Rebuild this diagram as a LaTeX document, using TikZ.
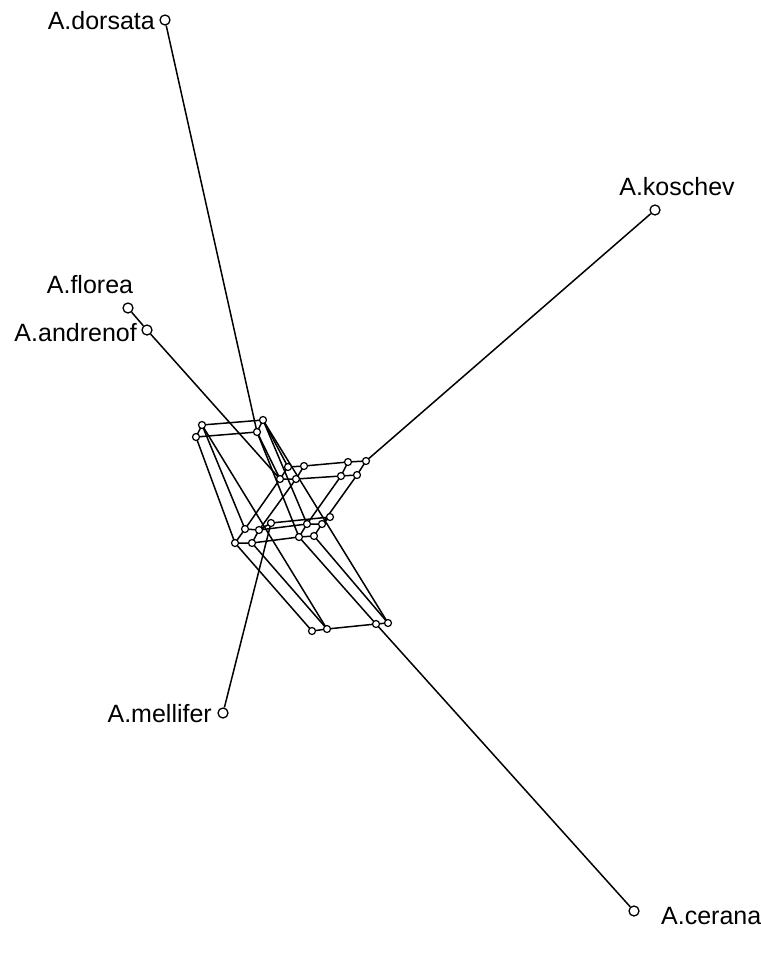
\documentclass[tikz,border=0pt]{standalone}
\usepackage{fontspec}
\setmainfont{Liberation Sans}
\begin{document}
\begin{tikzpicture}[x=1pt,y=-1pt,
  v/.style={circle,draw=black,fill=white,line width=1.2pt,inner sep=0pt,minimum size=7pt},
  lf/.style={circle,draw=black,fill=white,line width=1.3pt,inner sep=0pt,minimum size=10pt},
  lab/.style={font=\fontsize{25}{29}\selectfont,inner sep=0pt},
  ed/.style={line width=1.5pt,black}]
\useasboundingbox (0,0) rectangle (761,954);
% leaves
\node[lf] (dor) at (165,20) {};
\node[lf] (kos) at (655,210) {};
\node[lf] (flo) at (128,308) {};
\node[lf] (and) at (147,330) {};
\node[lf] (mel) at (223,713) {};
\node[lf] (cer) at (634,911) {};
% top cluster
\coordinate (d) at (202,425);
\coordinate (a) at (263,420);
\coordinate (e) at (196,437);
\coordinate (c) at (257,432);
% middle cluster
\coordinate (f) at (288,467);
\coordinate (g) at (304,466);
\coordinate (h) at (280,479);
\coordinate (i) at (296,479);
\coordinate (j) at (348,462);
\coordinate (k) at (366,461);
\coordinate (l) at (341,476);
\coordinate (m) at (357,475);
% lower cluster
\coordinate (n) at (245,529);
\coordinate (o) at (259,530);
\coordinate (p) at (271,523);
\coordinate (q) at (235,543);
\coordinate (r) at (252,543);
\coordinate (s) at (307,524);
\coordinate (t) at (322,524);
\coordinate (u) at (330,517);
\coordinate (vv) at (299,537);
\coordinate (w) at (314,536);
% bottom cluster
\coordinate (x1) at (312,631);
\coordinate (x2) at (327,629);
\coordinate (x3) at (376,624);
\coordinate (x4) at (388,623);
% edges
\draw[ed] (dor)--(c) (kos)--(k) (flo)--(and) (and)--(h) (mel)--(p) (cer)--(x3);
\draw[ed] (d)--(a) (e)--(c) (d)--(e) (a)--(c);
\draw[ed] (a)--(f) (c)--(h);
\draw[ed] (f)--(g) (h)--(i) (g)--(j) (i)--(l) (j)--(k) (l)--(m) (f)--(h) (g)--(i) (j)--(l) (k)--(m);
\draw[ed] (e)--(q) (d)--(n) (c)--(vv) (a)--(s);
\draw[ed] (h)--(n) (i)--(o) (l)--(s) (m)--(t);
\draw[ed] (q)--(r) (r)--(vv) (vv)--(w) (n)--(o) (s)--(t) (q)--(n) (r)--(o) (vv)--(s) (w)--(t) (o)--(p) (t)--(u) (p)--(u) (o)--(s);
\draw[ed] (q)--(x1) (r)--(x2) (vv)--(x3) (w)--(x4);
\draw[ed] (d)--(x2) (a)--(x4);
\draw[ed] (x1)--(x2) (x2)--(x3) (x3)--(x4);
% internal node circles
\foreach \z in {d,a,e,c,f,g,h,i,j,k,l,m,n,o,p,q,r,s,t,u,vv,w,x1,x2,x3,x4}
  \node[v] (N\z) at (\z) {};
% labels
\node[lab,anchor=east] (Ldor) at (155,21) {A.dorsata};
\node[lab] (Lkos) at (677,187) {A.koschev};
\node[lab] (Lflo) at (90,285) {A.florea};
\node[lab,anchor=east] (Land) at (137,333) {A.andrenof};
\node[lab,anchor=east] (Lmel) at (212,714) {A.mellifer};
\node[lab,anchor=west] (Lcer) at (661,916) {A.cerana};
\end{tikzpicture}
\end{document}
